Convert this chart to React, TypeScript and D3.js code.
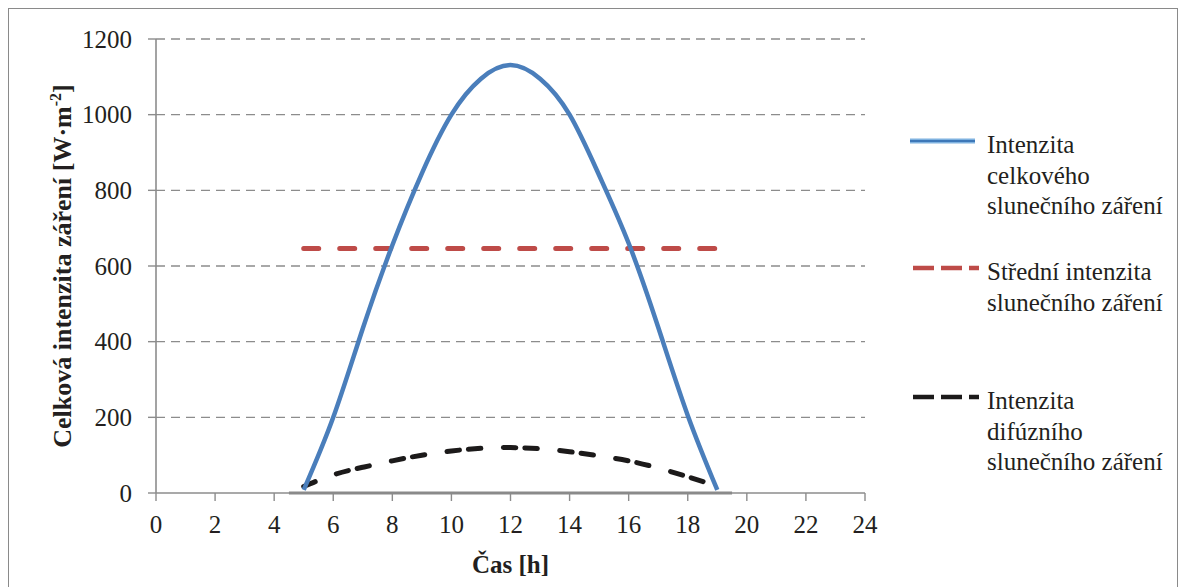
import React from "react";
import * as d3 from "d3";

const hours = [5, 6, 7, 8, 9, 10, 11, 12, 13, 14, 15, 16, 17, 18, 19];
const totalIntensity = [8, 200, 435, 655, 845, 1000, 1095, 1131, 1095, 1000, 840, 660, 438, 205, 8];
const diffuseIntensity = [17, 48, 68, 85, 100, 111, 118, 120, 117, 109, 98, 85, 66, 43, 18];
const meanHours = [5, 19];
const meanIntensity = [646, 646];
const baseHours = [4.5, 19.5];
const baseValues = [0, 0];
const xTicks = [0, 2, 4, 6, 8, 10, 12, 14, 16, 18, 20, 22, 24];
const yTicks = [0, 200, 400, 600, 800, 1000, 1200];

const legendItems = [
  { lines: ["Intenzita", "celkového", "slunečního záření"], kind: "total" },
  { lines: ["Střední intenzita", "slunečního záření"], kind: "mean" },
  { lines: ["Intenzita", "difúzního", "slunečního záření"], kind: "diffuse" },
];

const W = 1185;
const H = 587;
const FONT = "Liberation Serif, Tinos, Times New Roman, DejaVu Serif, serif";
const TEXT = "#231F20";
const AXIS = "#8C8C8C";
const BLUE = "#4A7EBB";
const RED = "#BE4B48";
const BLACK = "#1C1A1A";

export default function App() {
  const x = d3.scaleLinear().domain([0, 24]).range([156, 865]);
  const y = d3.scaleLinear().domain([0, 1200]).range([493, 39]);

  const smooth = d3
    .line<[number, number]>()
    .x((d) => x(d[0]))
    .y((d) => y(d[1]))
    .curve(d3.curveNatural);
  const straight = d3
    .line<[number, number]>()
    .x((d) => x(d[0]))
    .y((d) => y(d[1]));

  const totalPts = hours.map((h, i) => [h, totalIntensity[i]] as [number, number]);
  const diffusePts = hours.map((h, i) => [h, diffuseIntensity[i]] as [number, number]);
  const meanPts = meanHours.map((h, i) => [h, meanIntensity[i]] as [number, number]);
  const basePts = baseHours.map((h, i) => [h, baseValues[i]] as [number, number]);

  const legendY = [141, 268, 397];
  const lineGap = 30.5;

  return (
    <svg
      width={W}
      height={H}
      style={{ position: "absolute", left: 0, top: 0, background: "#fff", fontFamily: FONT }}
    >
      <rect x={0} y={0} width={W} height={H} fill="#fff" />
      <rect x={8.5} y={8.5} width={1169} height={600} fill="none" stroke="#8a8a8a" strokeWidth={1} />

      {yTicks
        .filter((t) => t > 0)
        .map((t) => (
          <line
            key={"g" + t}
            x1={x(0)}
            x2={x(24)}
            y1={y(t)}
            y2={y(t)}
            stroke="#8C8C8C"
            strokeWidth={1.4}
            strokeDasharray="9 6"
          />
        ))}

      <line x1={x(0)} x2={x(0)} y1={y(1200)} y2={y(0)} stroke={AXIS} strokeWidth={1.6} />
      <line x1={x(0)} x2={x(24)} y1={y(0)} y2={y(0)} stroke={AXIS} strokeWidth={1.6} />
      {yTicks.map((t) => (
        <g key={"yt" + t}>
          <line x1={x(0) - 8} x2={x(0)} y1={y(t)} y2={y(t)} stroke={AXIS} strokeWidth={1.4} />
          <text x={132} y={y(t)} textAnchor="end" dominantBaseline="central" fontSize={25} fill={TEXT}>
            {t}
          </text>
        </g>
      ))}
      {xTicks.map((t) => (
        <g key={"xt" + t}>
          <line x1={x(t)} x2={x(t)} y1={y(0)} y2={y(0) + 8} stroke={AXIS} strokeWidth={1.4} />
          <text x={x(t)} y={533} textAnchor="middle" fontSize={25} fill={TEXT}>
            {t}
          </text>
        </g>
      ))}

      <path d={straight(basePts) || ""} fill="none" stroke="#8A8A8A" strokeWidth={3} />

      <path
        d={straight(meanPts) || ""}
        fill="none"
        stroke={RED}
        strokeWidth={5}
        strokeLinecap="round"
        strokeDasharray="15 21"
      />
      <path
        d={smooth(diffusePts) || ""}
        fill="none"
        stroke={BLACK}
        strokeWidth={5}
        strokeLinecap="round"
        strokeDasharray="12.5 22.5 12.5 9"
      />
      <path d={smooth(totalPts) || ""} fill="none" stroke={BLUE} strokeWidth={4.5} />

      <text
        transform={`translate(71, ${(y(0) + y(1200)) / 2}) rotate(-90)`}
        textAnchor="middle"
        fontSize={26}
        fontWeight="bold"
        fill={TEXT}
      >
        Celková intenzita záření [W·m
        <tspan dy={-10} fontSize={16}>-2</tspan>
        <tspan dy={10}>]</tspan>
      </text>
      <text x={(x(0) + x(24)) / 2} y={573} textAnchor="middle" fontSize={25} fontWeight="bold" fill={TEXT}>
        Čas [h]
      </text>

      {legendItems.map((item, i) => {
        const ly = legendY[i];
        return (
          <g key={"lg" + i}>
            {item.kind === "total" && (
              <g>
                <line x1={910} x2={975} y1={ly} y2={ly} stroke="#7FB2E0" strokeWidth={5} />
                <line x1={910} x2={975} y1={ly} y2={ly} stroke="#3E78B8" strokeWidth={2.2} />
              </g>
            )}
            {item.kind === "mean" && (
              <line x1={913} x2={979} y1={ly} y2={ly} stroke={RED} strokeWidth={4.5} strokeDasharray="21 7" />
            )}
            {item.kind === "diffuse" && (
              <line x1={913} x2={979} y1={ly} y2={ly} stroke={BLACK} strokeWidth={4.5} strokeDasharray="21 7" />
            )}
            {item.lines.map((ln, j) => (
              <text key={j} x={987} y={ly + 12 + j * lineGap} fontSize={25} fill={TEXT}>
                {ln}
              </text>
            ))}
          </g>
        );
      })}
    </svg>
  );
}
